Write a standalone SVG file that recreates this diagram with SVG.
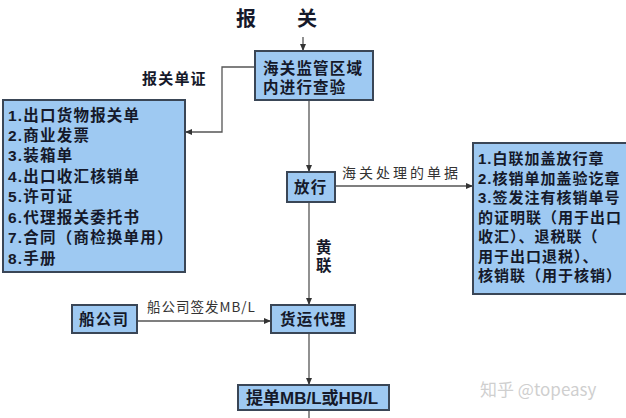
<svg xmlns="http://www.w3.org/2000/svg" width="626" height="418" viewBox="0 0 626 418">
<defs>
<marker id="ah" markerUnits="userSpaceOnUse" markerWidth="8" markerHeight="8" refX="7" refY="4" orient="auto">
<path d="M0,1 L7,4 L0,7 z" fill="#333"/>
</marker>
<style>
.box{fill:#9ec9f2;stroke:#3a4656;stroke-width:2}
.t{font-family:"Liberation Sans","Noto Sans CJK SC",sans-serif;font-weight:bold;fill:#15192a;font-size:15.5px;letter-spacing:1.2px}
.r{font-size:15px;letter-spacing:1px}
.lbl{font-family:"Noto Sans CJK SC","Liberation Serif",serif;font-weight:normal;fill:#333;font-size:14px;letter-spacing:3px}
.c{fill:none;stroke:#555;stroke-width:1.3}
</style>
</defs>
<rect width="626" height="418" fill="#ffffff"/>

<g id="title">
<text class="t" x="236" y="26" style="font-size:20px;letter-spacing:0">报</text>
<text class="t" x="297" y="26" style="font-size:20px;letter-spacing:0">关</text>
</g>

<g id="connectors">
<path class="c" d="M303,37 V51" marker-end="url(#ah)"/>
<path class="c" d="M255,67 H222 V132 H185" marker-end="url(#ah)"/>
<path class="c" d="M309,100 V172" marker-end="url(#ah)"/>
<path class="c" d="M335,186 H473" marker-end="url(#ah)"/>
<path class="c" d="M309,202 V305" marker-end="url(#ah)"/>
<path class="c" d="M137,321 H271" marker-end="url(#ah)"/>
<path class="c" d="M309,333 V385" marker-end="url(#ah)"/>
<path class="c" d="M309,410 V418"/>
</g>

<g id="label-baoguan">
<text class="t" x="142" y="84" style="font-size:15px">报关单证</text>
</g>
<g id="label-haiguan">
<text class="lbl" x="342" y="178">海关处理的单据</text>
</g>
<g id="label-huanglian">
<text class="t" x="316" y="253">黄</text>
<text class="t" x="316" y="271">联</text>
</g>
<g id="label-chuan">
<text class="lbl" x="147" y="312" style="font-size:13.5px;letter-spacing:1px">船公司签发MB/L</text>
</g>

<g id="node-inspect">
<rect class="box" x="255" y="51" width="118" height="49"/>
<text class="t" x="263" y="74">海关监管区域</text>
<text class="t" x="263" y="93">内进行查验</text>
</g>

<g id="node-docs">
<rect class="box" x="3" y="100" width="182" height="172"/>
<text class="t" x="8" y="121">1.出口货物报关单</text>
<text class="t" x="8" y="141">2.商业发票</text>
<text class="t" x="8" y="161">3.装箱单</text>
<text class="t" x="8" y="182">4.出口收汇核销单</text>
<text class="t" x="8" y="202">5.许可证</text>
<text class="t" x="8" y="223">6.代理报关委托书</text>
<text class="t" x="8" y="243">7.合同（商检换单用）</text>
<text class="t" x="8" y="264">8.手册</text>
</g>

<g id="node-release">
<rect class="box" x="287" y="172" width="48" height="30"/>
<text class="t" x="294" y="193">放行</text>
</g>

<g id="node-customs-docs">
<rect class="box" x="473" y="143" width="160" height="151"/>
<text class="t r" x="478" y="164">1.白联加盖放行章</text>
<text class="t r" x="478" y="184">2.核销单加盖验讫章</text>
<text class="t r" x="478" y="203">3.签发注有核销单号</text>
<text class="t r" x="478" y="223">的证明联（用于出口</text>
<text class="t r" x="478" y="242">收汇）、退税联（</text>
<text class="t r" x="478" y="262">用于出口退税）、</text>
<text class="t r" x="478" y="281">核销联（用于核销）</text>
</g>

<g id="node-shipco">
<rect class="box" x="72" y="305" width="65" height="28"/>
<text class="t" x="79" y="325">船公司</text>
</g>

<g id="node-forwarder">
<rect class="box" x="271" y="305" width="84" height="28"/>
<text class="t" x="280" y="325">货运代理</text>
</g>

<g id="node-bl">
<rect class="box" x="238" y="385" width="151" height="25"/>
<text class="t" x="246" y="404" style="font-size:17px;letter-spacing:0">提单MB/L或HB/L</text>
</g>

<g id="watermark">
<text x="480" y="396" style="font-family:'Noto Sans CJK SC','Liberation Sans',sans-serif;font-size:17px;fill:#cfcfcf">知乎 @topeasy</text>
</g>
</svg>
